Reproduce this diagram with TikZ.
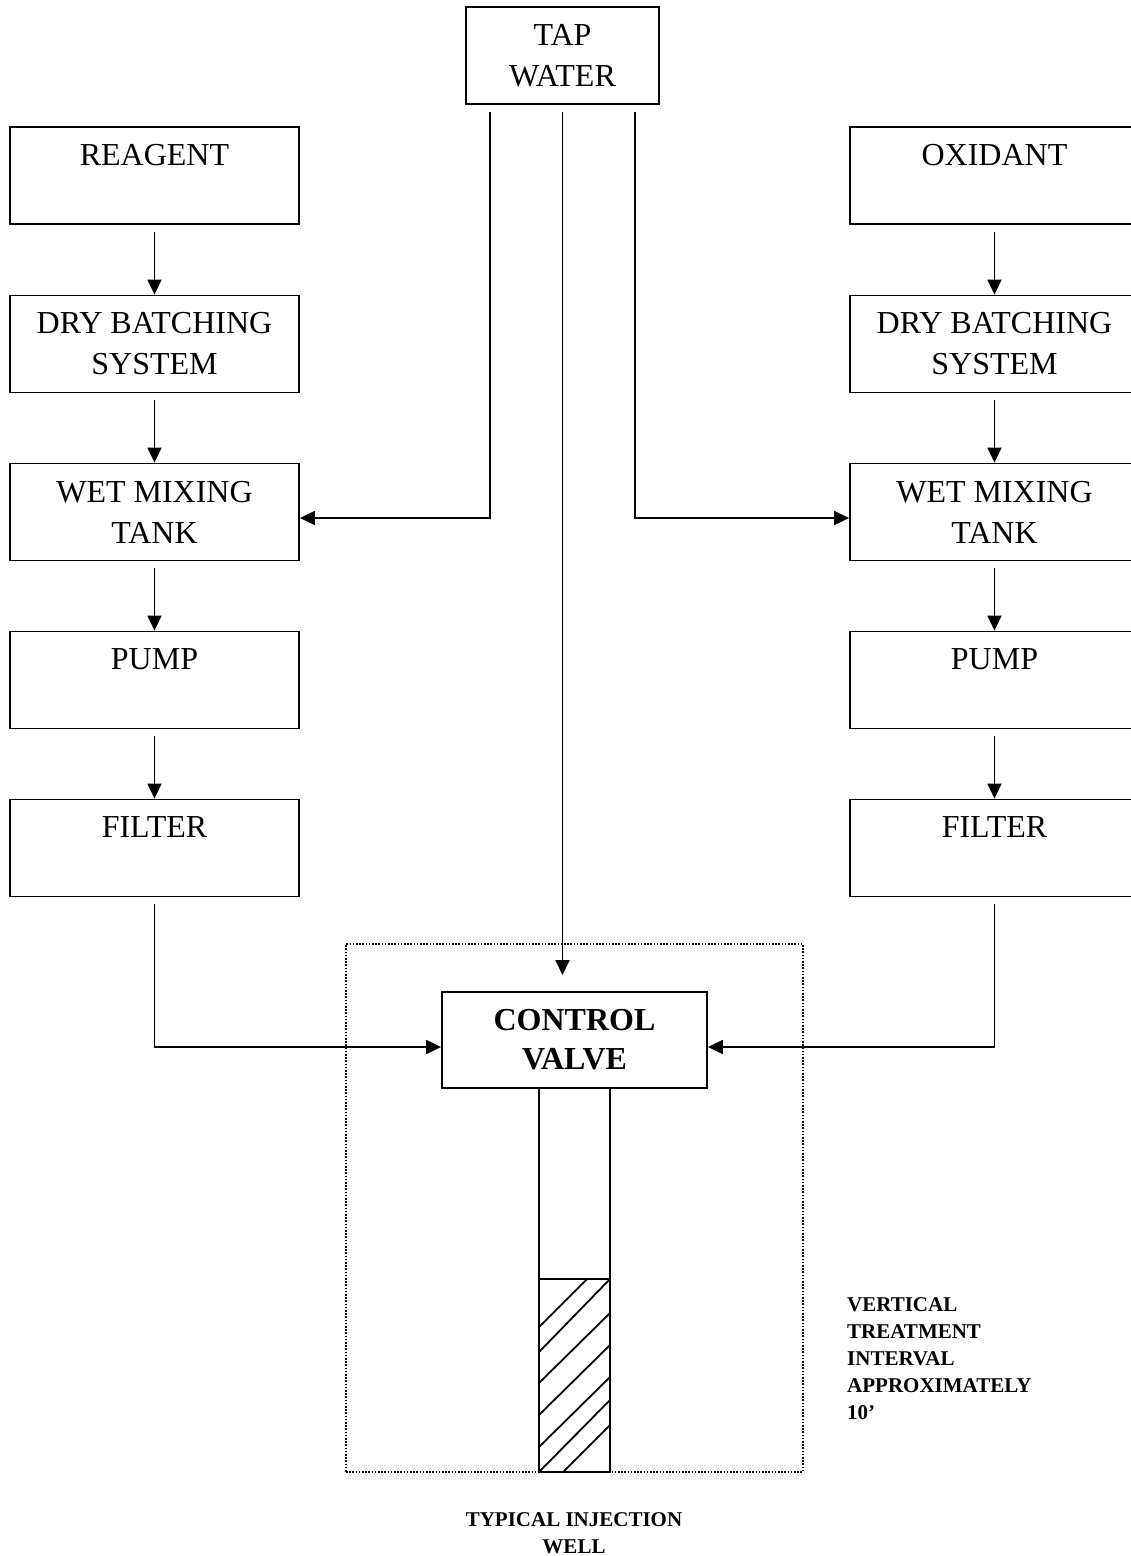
\documentclass[tikz,border=0pt]{standalone}
\usepackage{fontspec}
\setmainfont{Liberation Serif}
\usetikzlibrary{arrows.meta}
\begin{document}
\begin{tikzpicture}[x=1pt,y=-1pt,
  box/.style={draw,line width=1.8pt,minimum width=289pt,minimum height=97pt,inner sep=0pt,align=center,font=\fontsize{32}{41}\selectfont},
  arr/.style={line width=1.8pt,-{Triangle[length=15pt,width=14pt]}},
  ln/.style={line width=1.8pt},
  small/.style={font=\fontsize{21}{27}\selectfont\bfseries,inner sep=0pt}]
\useasboundingbox (0,0) rectangle (1131,1556);
\clip (0,0) rectangle (1131,1556);

% dotted well zone
\node[draw,dash pattern=on 1.6pt off 1.6pt,line width=1.6pt,minimum width=457pt,minimum height=528pt,inner sep=0pt] (zone) at (574.5,1208) {};

% top
\node[box,minimum width=193pt] (tap) at (562.5,55.5) {TAP\\WATER};

% left column
\node[box] (reagent) at (154.5,175.5) {REAGENT\\\mbox{}};
\node[box] (ldry) at (154.5,344) {DRY BATCHING\\SYSTEM};
\node[box] (lwet) at (154.5,512) {WET MIXING\\TANK};
\node[box] (lpump) at (154.5,680) {PUMP\\\mbox{}};
\node[box] (lfilter) at (154.5,848) {FILTER\\\mbox{}};

% right column
\node[box] (oxidant) at (994.5,175.5) {OXIDANT\\\mbox{}};
\node[box] (rdry) at (994.5,344) {DRY BATCHING\\SYSTEM};
\node[box] (rwet) at (994.5,512) {WET MIXING\\TANK};
\node[box] (rpump) at (994.5,680) {PUMP\\\mbox{}};
\node[box] (rfilter) at (994.5,848) {FILTER\\\mbox{}};

% control valve
\node[box,minimum width=265pt,minimum height=96pt,font=\fontsize{32}{39}\selectfont\bfseries] (cv) at (574.5,1040) {CONTROL\\VALVE};

% well
\node[draw,line width=1.8pt,minimum width=71pt,minimum height=384pt,inner sep=0pt] (well) at (574.5,1280) {};
\node[draw,line width=1.8pt,minimum width=71pt,minimum height=193pt,inner sep=0pt] (screen) at (574.5,1375.5) {};
\begin{scope}[ln]
\draw (539,1327) -- (587,1279);
\draw (539,1352) -- (610,1279);
\draw (539,1383) -- (610,1313);
\draw (539,1415) -- (610,1345);
\draw (539,1447) -- (610,1377);
\draw (539,1472) -- (610,1400);
\draw (563,1472) -- (610,1425);
\end{scope}

% labels
\node[small,anchor=north west,align=left] (interval) at (847,1297) {VERTICAL\\TREATMENT\\INTERVAL\\APPROXIMATELY\\10'};
\node[small,anchor=north,align=center] (welllabel) at (574,1512) {TYPICAL INJECTION\\WELL};

% column arrows
\draw[arr] ([yshift=-7pt]reagent.south) -- (ldry.north);
\draw[arr] ([yshift=-7pt]ldry.south) -- (lwet.north);
\draw[arr] ([yshift=-7pt]lwet.south) -- (lpump.north);
\draw[arr] ([yshift=-7pt]lpump.south) -- (lfilter.north);
\draw[arr] ([yshift=-7pt]oxidant.south) -- (rdry.north);
\draw[arr] ([yshift=-7pt]rdry.south) -- (rwet.north);
\draw[arr] ([yshift=-7pt]rwet.south) -- (rpump.north);
\draw[arr] ([yshift=-7pt]rpump.south) -- (rfilter.north);

% tap water feeds
\coordinate (cvin) at (562.5,975);
\draw[arr] ([xshift=25pt,yshift=-7pt]tap.south west) |- ([yshift=-6pt]lwet.east);
\draw[arr] ([xshift=-25pt,yshift=-7pt]tap.south east) |- ([yshift=-6pt]rwet.west);
\draw[arr] ([yshift=-7pt]tap.south) -- (cvin);

% filters to control valve
\draw[arr] ([yshift=-7pt]lfilter.south) |- ([yshift=-7pt]cv.west);
\draw[arr] ([yshift=-7pt]rfilter.south) |- ([yshift=-7pt]cv.east);
\end{tikzpicture}
\end{document}
